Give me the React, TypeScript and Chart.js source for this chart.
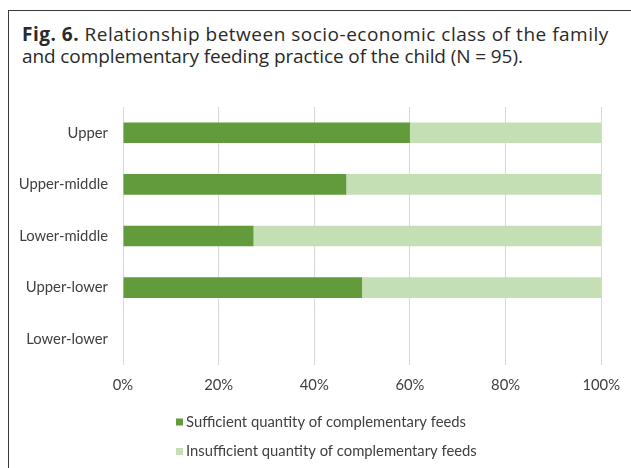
import React, { useEffect, useRef } from 'react';
import { Chart, registerables } from 'chart.js';

Chart.register(...registerables);

const categories = ['Upper', 'Upper-middle', 'Lower-middle', 'Upper-lower', 'Lower-lower'];
const sufficient = [60, 46.7, 27.3, 50, null];
const insufficient = [40, 53.3, 72.7, 50, null];
const seriesLabels = [
  'Sufficient quantity of complementary feeds',
  'Insufficient quantity of complementary feeds',
];
const xMin = 0;
const xMax = 100;
const xStep = 20;

const FONT = 'Lato';
const TEXT = '#404040';

const stackedLegend = {
  id: 'stackedLegend',
  afterDraw(chart: any) {
    const ctx = chart.ctx;
    const area = chart.chartArea;
    ctx.save();
    ctx.font = `14.8px ${FONT}`;
    ctx.textBaseline = 'middle';
    ctx.textAlign = 'left';
    chart.data.datasets.forEach((ds: any, i: number) => {
      const y = area.bottom + 57 + i * 29.5;
      const x = 176;
      ctx.fillStyle = ds.backgroundColor;
      ctx.fillRect(x, y - 3.5, 7, 7);
      ctx.fillStyle = TEXT;
      ctx.fillText(ds.label, x + 10, y);
    });
    ctx.restore();
  },
};

export default function App() {
  const ref = useRef<HTMLCanvasElement | null>(null);

  useEffect(() => {
    if (!ref.current) return;
    const chart = new Chart(ref.current, {
      type: 'bar',
      data: {
        labels: categories,
        datasets: [
          {
            label: seriesLabels[0],
            data: sufficient,
            backgroundColor: '#629b3b',
            barPercentage: 0.4,
            categoryPercentage: 1,
          },
          {
            label: seriesLabels[1],
            data: insufficient,
            backgroundColor: '#c5dfb5',
            barPercentage: 0.4,
            categoryPercentage: 1,
          },
        ],
      },
      options: {
        indexAxis: 'y',
        responsive: false,
        animation: false,
        layout: { padding: { top: 107, right: 27, bottom: 63, left: 0 } },
        plugins: {
          legend: { display: false },
          tooltip: { enabled: false },
          title: { display: false },
        },
        scales: {
          x: {
            stacked: true,
            min: xMin,
            max: xMax,
            ticks: {
              stepSize: xStep,
              padding: 11,
              color: TEXT,
              font: { family: FONT, size: 14.8 },
              callback: (v: any) => `${v}%`,
            },
            grid: { color: '#d9d9d9', drawTicks: false, lineWidth: 1 },
            border: { display: false },
            afterFit: (s: any) => {
              s.height = 40;
            },
          },
          y: {
            stacked: true,
            ticks: {
              padding: 15,
              color: TEXT,
              font: { family: FONT, size: 14.8 },
            },
            grid: { display: false, drawTicks: false },
            border: { display: false },
            afterFit: (s: any) => {
              s.width = 123;
            },
          },
        },
      },
      plugins: [stackedLegend],
    });
    return () => chart.destroy();
  }, []);

  return (
    <div style={{ position: 'absolute', left: 0, top: 0, width: 631, height: 468, background: '#fff', overflow: 'hidden' }}>
      <div
        style={{
          position: 'absolute',
          left: 8,
          top: 10,
          width: 623,
          height: 458,
          borderTop: '1.5px solid #3a3a3a',
          borderLeft: '1.5px solid #3a3a3a',
          boxSizing: 'border-box',
        }}
      />
      <div
        style={{
          position: 'absolute',
          left: 22,
          top: 23,
          width: 605,
          fontFamily: '"Open Sans", sans-serif',
          fontSize: 19,
          lineHeight: '22px',
          color: '#2a2a2a',
          whiteSpace: 'nowrap',
        }}
      >
        <div style={{ letterSpacing: '0.5px' }}>
          <b>Fig. 6.</b> Relationship between socio-economic class of the family
        </div>
        <div style={{ letterSpacing: '-0.1px' }}>and complementary feeding practice of the child (N = 95).</div>
      </div>
      <canvas ref={ref} width={631} height={468} style={{ position: 'absolute', left: 0, top: 0, width: 631, height: 468 }} />
    </div>
  );
}
